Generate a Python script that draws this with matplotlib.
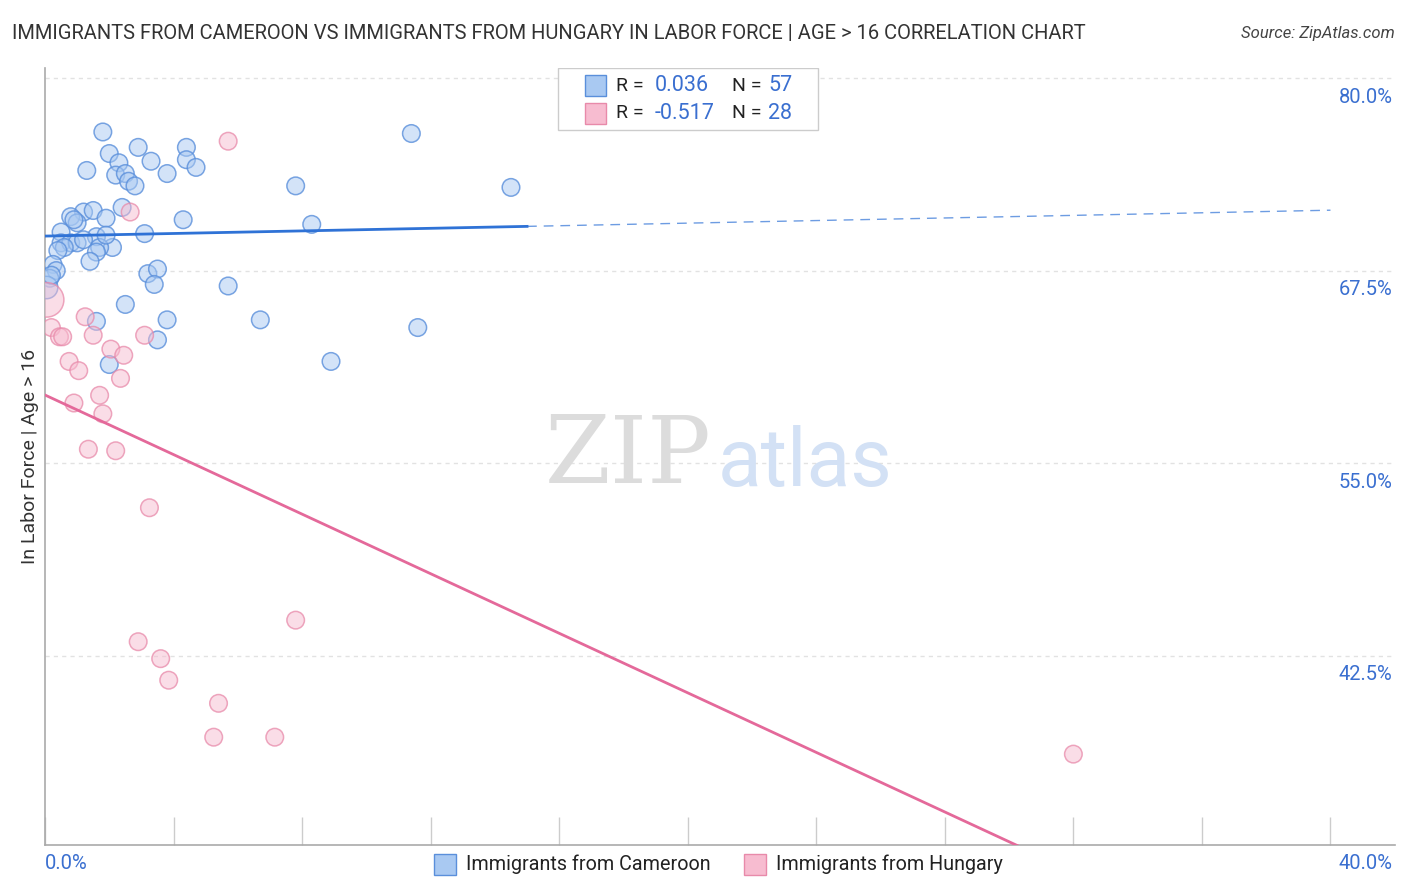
import matplotlib
matplotlib.use("Agg")
import matplotlib.pyplot as plt
import matplotlib.transforms as mtransforms
from matplotlib.patches import Rectangle
from matplotlib.colors import to_rgba
import numpy as np

plt.rcParams['font.family'] = ['Roboto', 'DejaVu Sans']

# Immigrants from Cameroon (x %, y %)
cam_x = [1.8, 2.0, 2.9, 2.3, 3.3, 4.4, 4.4, 4.7, 3.8, 1.3, 2.2, 2.5, 2.6, 2.8,
         2.4, 4.3, 11.4, 14.5, 7.8, 8.3, 1.2, 1.5, 0.8, 1.0, 1.9, 0.5, 3.1, 0.5,
         0.8, 1.0, 1.6, 1.2, 0.6, 0.4, 2.1, 1.7, 1.6, 1.4, 0.25, 0.35, 0.15, 0.05,
         3.2, 3.5, 3.4, 5.7, 2.5, 1.6, 3.8, 3.5, 6.7, 11.6, 8.9, 2.0, 0.2, 1.9, 0.9]
cam_y = [76.5, 75.1, 75.5, 74.5, 74.6, 75.5, 74.7, 74.2, 73.8, 74.0, 73.7, 73.8,
         73.3, 73.0, 71.6, 70.8, 76.4, 72.9, 73.0, 70.5, 71.3, 71.4, 71.0, 70.6,
         70.9, 70.0, 69.9, 69.3, 69.3, 69.3, 69.7, 69.5, 69.0, 68.8, 69.0, 69.0,
         68.7, 68.1, 67.9, 67.5, 67.0, 66.4, 67.3, 67.6, 66.6, 66.5, 65.3, 64.2,
         64.3, 63.0, 64.3, 63.8, 61.6, 61.4, 67.2, 69.8, 70.8]

# Immigrants from Hungary (x %, y %)
hun_x = [5.7, 2.65, 0.05, 0.2, 1.25, 0.45, 0.55, 1.5, 3.1, 2.05, 2.45, 0.75,
         1.05, 2.35, 1.7, 0.9, 1.8, 1.35, 2.2, 3.25, 7.8, 2.9, 3.6, 3.85, 5.4,
         5.25, 7.15, 32.0]
hun_y = [75.9, 71.3, 65.6, 63.8, 64.5, 63.2, 63.2, 63.3, 63.3, 62.4, 62.0, 61.6,
         61.0, 60.5, 59.4, 58.9, 58.2, 55.9, 55.8, 52.1, 44.8, 43.4, 42.3, 40.9,
         39.4, 37.2, 37.2, 36.1]
hun_s = [160] * 28
hun_s[2] = 620
cam_s = [160] * 57
cam_s[41] = 260

# trend lines (intercept, slope)
cam_fit = (69.74, 0.042)
hun_fit = (59.42, -0.967)

blue_fill = '#a9c9f2'
blue_edge = '#5a8fdb'
pink_fill = '#f7bcd0'
pink_edge = '#e88aaa'
blue_line = '#2f72d6'
pink_line = '#e4699a'
tick_blue = '#3a6fd0'

fig = plt.figure(figsize=(14.06, 8.92), dpi=100)
ax = fig.add_axes([0.032, 0.0527, 0.96, 0.871])
ax.set_xlim(0, 42.0)
ax.set_ylim(30.2, 80.65)

yticks = [42.5, 55.0, 67.5, 80.0]
for v in yticks:
    ax.axhline(v, color='#e2e2e2', lw=1, ls=(0, (3, 3)), zorder=0)

ax.scatter(cam_x, cam_y, s=cam_s, facecolor=to_rgba(blue_fill, 0.5),
           edgecolor=to_rgba(blue_edge, 0.8), lw=1.1, zorder=3)
ax.scatter(hun_x, hun_y, s=hun_s, facecolor=to_rgba(pink_fill, 0.5),
           edgecolor=to_rgba(pink_edge, 0.75), lw=1.1, zorder=3)

xs = np.array([0, 15.0])
ax.plot(xs, cam_fit[0] + cam_fit[1] * xs, color=blue_line, lw=2, zorder=4)
xs = np.array([15.0, 40.0])
ax.plot(xs, cam_fit[0] + cam_fit[1] * xs, color=blue_line, lw=1, ls=(0, (7, 5)),
        alpha=0.7, zorder=4)
xs = np.array([0, 40.0])
ax.plot(xs, hun_fit[0] + hun_fit[1] * xs, color=pink_line, lw=2, zorder=4)

for s in ['top', 'right']:
    ax.spines[s].set_visible(False)
for s in ['left', 'bottom']:
    ax.spines[s].set_color('#aaaaaa')
    ax.spines[s].set_linewidth(1.2)

ax.set_yticks([])
ax.set_xticks(np.arange(0, 41, 4))
ax.tick_params(axis='x', direction='in', length=20, color='#cccccc', width=1,
               labelbottom=False)

trans = mtransforms.blended_transform_factory(ax.transAxes, ax.transData)
for v in yticks:
    ax.text(0.9985, v - 1.25, f'{v:.1f}%', transform=trans, ha='right', va='center',
            fontsize=14.5, color=tick_blue)

ax.text(0.0, -0.024, '0.0%', transform=ax.transAxes, ha='left', va='center',
        fontsize=14.5, color=tick_blue)
ax.text(0.9985, -0.024, '40.0%', transform=ax.transAxes, ha='right', va='center',
        fontsize=14.5, color=tick_blue)

ax.set_ylabel('In Labor Force | Age > 16', fontsize=14, color='#333333', labelpad=4)

# watermark
ax.text(0.494, 0.5, 'ZIP', transform=ax.transAxes, ha='right', va='center',
        fontsize=68, color='#dcdcdc', family='DejaVu Serif')
ax.text(0.4985, 0.49, 'atlas', transform=ax.transAxes, ha='left', va='center',
        fontsize=58, color='#d3e1f5')

# top legend
ax.add_patch(Rectangle((0.380, 0.92), 0.1926, 0.08, transform=ax.transAxes,
                       facecolor='white', edgecolor='#cccccc', lw=1, zorder=5))
rows = [(blue_fill, blue_edge, '0.036', '57'), (pink_fill, pink_edge, '-0.517', '28')]
for i, (fc, ec, r, n) in enumerate(rows):
    yy = 0.977 - i * 0.035
    ax.add_patch(Rectangle((0.400, yy - 0.0135), 0.0156, 0.027, transform=ax.transAxes,
                           facecolor=fc, edgecolor=ec, lw=1, zorder=6))
    ax.text(0.423, yy, 'R = ', transform=ax.transAxes, ha='left', va='center',
            fontsize=14, color='#222222', zorder=6)
    ax.text(0.452, yy, r, transform=ax.transAxes, ha='left', va='center',
            fontsize=15.5, color=tick_blue, zorder=6)
    ax.text(0.509, yy, 'N = ', transform=ax.transAxes, ha='left', va='center',
            fontsize=14, color='#222222', zorder=6)
    ax.text(0.536, yy, n, transform=ax.transAxes, ha='left', va='center',
            fontsize=15.5, color=tick_blue, zorder=6)

# bottom legend
for fc, ec, label, x0 in [(blue_fill, blue_edge, 'Immigrants from Cameroon', 0.309),
                          (pink_fill, pink_edge, 'Immigrants from Hungary', 0.5295)]:
    fig.patches.append(Rectangle((x0, 0.0185), 0.0156, 0.0245, transform=fig.transFigure,
                                 facecolor=fc, edgecolor=ec, lw=1))
    fig.text(x0 + 0.0225, 0.031, label, ha='left', va='center', fontsize=14.2,
             color='#222222')

fig.text(0.0085, 0.962, 'IMMIGRANTS FROM CAMEROON VS IMMIGRANTS FROM HUNGARY IN LABOR FORCE | AGE > 16 CORRELATION CHART',
         ha='left', va='center', fontsize=14.5, color='#333333')
fig.text(0.992, 0.962, 'Source: ZipAtlas.com', ha='right', va='center', fontsize=12,
         color='#444444', style='italic')

fig.savefig('out.png', dpi=100)
